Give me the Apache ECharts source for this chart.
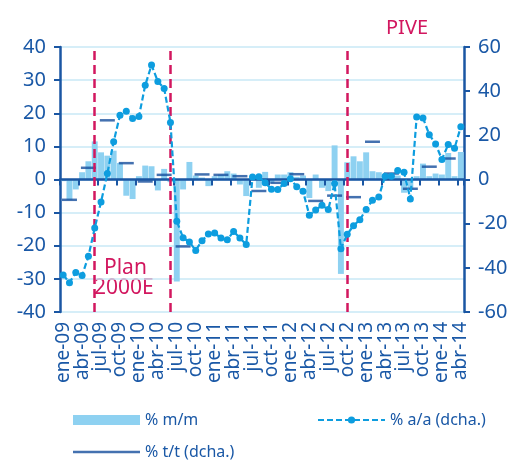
<!DOCTYPE html>
<html>
<head>
<meta charset="utf-8">
<script src="https://cdn.jsdelivr.net/npm/echarts@6.0.0/dist/echarts.min.js"></script>
<style>
    html, body { margin: 0; padding: 0; background: #fff; }
    #chart { width: 513px; height: 462px; }
</style>
</head>
<body>
<div id="chart"></div>
<script>
// meses ene-09 .. abr-14
var meses = [
    'ene-09','feb-09','mar-09','abr-09','may-09','jun-09','jul-09','ago-09','sep-09','oct-09','nov-09','dic-09',
    'ene-10','feb-10','mar-10','abr-10','may-10','jun-10','jul-10','ago-10','sep-10','oct-10','nov-10','dic-10',
    'ene-11','feb-11','mar-11','abr-11','may-11','jun-11','jul-11','ago-11','sep-11','oct-11','nov-11','dic-11',
    'ene-12','feb-12','mar-12','abr-12','may-12','jun-12','jul-12','ago-12','sep-12','oct-12','nov-12','dic-12',
    'ene-13','feb-13','mar-13','abr-13','may-13','jun-13','jul-13','ago-13','sep-13','oct-13','nov-13','dic-13',
    'ene-14','feb-14','mar-14','abr-14'
];

// % m/m (eje izq.)
var mm = [
    -0.5, -6.2, -3.0, 2.2, 5.5, 11.5, 8.2, 7.2, 8.7, 5.0, -4.9, -5.9,
    1.0, 4.2, 4.0, -3.3, 3.2, -0.8, -30.8, -3.0, 5.3, 1.2, 0.6, -2.0,
    1.0, 1.5, 2.5, 1.8, -1.5, -5.0, 1.0, -2.5, 2.3, -1.0, 1.5, 1.5,
    2.2, 0.8, 1.2, -5.6, 1.5, -2.5, -3.5, 10.3, -28.5, 5.2, 7.0, 5.5,
    8.2, 2.5, 2.2, 1.2, 1.5, 1.2, -4.0, -3.0, 1.0, 4.8, 1.0, 1.8,
    1.5, 8.0, 1.0, 8.3
];

// % a/a (eje dcho.)
var aa = [
    -43.2, -46.7, -42.1, -43.5, -34.8, -22.0, -10.2, 2.7, 17.1, 29.1, 30.9, 27.6,
    28.5, 42.7, 51.8, 44.4, 41.2, 25.8, -18.9, -26.4, -28.3, -32.1, -27.7, -24.7,
    -24.2, -26.5, -27.3, -23.5, -26.5, -29.4, 1.1, 1.2, -1.5, -4.4, -4.5, -1.8,
    0.3, -3.3, -5.3, -16.2, -13.8, -11.7, -13.6, -1.8, -31.4, -24.8, -20.9, -18.2,
    -13.6, -9.4, -7.9, 1.5, 1.5, 4.1, 3.3, -8.8, 28.3, 27.9, 20.3, 16.1,
    9.1, 15.8, 14.2, 23.9
];

// % t/t trimestral (eje dcho.), 1T09 .. 1T14
var tt = [
    -9.2, 5.3, 26.8, 7.4,
    -0.9, 2.1, -30.3, 2.3,
    2.1, 1.5, -5.2, -1.5,
    2.4, -9.7, -7.3, -8.0,
    17.1, 2.7, -4.2, 5.8,
    9.5
];

var marcas = ['jun-09', 'jun-10', 'oct-12'];

var azulTexto = '#1a58a6';
var azulEje = '#1a56a3';
var rojo = '#d2175f';
var fuente = 'Noto Sans';

var chart = echarts.init(document.getElementById('chart'));

var ttData = tt.map(function (v, k) {
    return [k * 3 + 1, v]; // mes central del trimestre
});

var option = {
    animation: false,
    textStyle: { fontFamily: fuente },
    grid: { left: 60, right: 49, top: 47, bottom: 150 },
    legend: [{
        left: 68, top: 407,
        itemWidth: 67, itemHeight: 10,
        textStyle: { color: azulTexto, fontSize: 16, fontFamily: fuente },
        data: [{ name: '% m/m', icon: 'rect' }]
    }, {
        left: 312, top: 407,
        itemWidth: 67, itemHeight: 9,
        textStyle: { color: azulTexto, fontSize: 16, fontFamily: fuente },
        data: ['% a/a (dcha.)']
    }, {
        left: 68, top: 439,
        itemWidth: 67, itemHeight: 2.5,
        textStyle: { color: azulTexto, fontSize: 16, fontFamily: fuente },
        data: [{ name: '% t/t (dcha.)', icon: 'rect' }]
    }],
    xAxis: [{
        // eje en el cero, solo linea y marcas
        type: 'category',
        data: meses,
        z: 3,
        axisLine: { onZero: true, lineStyle: { color: azulEje, width: 2.5 } },
        axisTick: { show: true, interval: 2, length: 6, lineStyle: { color: azulEje, width: 2 } },
        axisLabel: { show: false },
        splitLine: { show: false }
    }, {
        // etiquetas abajo
        type: 'category',
        data: meses,
        position: 'bottom',
        axisLine: { show: false, onZero: false },
        axisTick: { show: false },
        axisLabel: {
            rotate: 90,
            interval: 2,
            margin: 10,
            color: azulTexto,
            fontSize: 19,
            fontFamily: fuente
        }
    }],
    yAxis: [{
        type: 'value',
        min: -40, max: 40, interval: 10,
        axisLine: { show: true, lineStyle: { color: azulEje, width: 2.5 } },
        axisTick: { show: true, length: 6, lineStyle: { color: azulEje, width: 2 } },
        axisLabel: { color: azulTexto, fontSize: 20, margin: 14, fontFamily: fuente },
        splitLine: { show: true, lineStyle: { color: '#c9e8f6', width: 1.5 } }
    }, {
        type: 'value',
        position: 'right',
        min: -60, max: 60, interval: 20,
        axisLine: { show: true, lineStyle: { color: azulEje, width: 2.5 } },
        axisTick: { show: true, length: 6, lineStyle: { color: azulEje, width: 2 } },
        axisLabel: { color: azulTexto, fontSize: 20, margin: 14, fontFamily: fuente },
        splitLine: { show: false }
    }],
    graphic: [{
        type: 'text', left: 104, top: 258,
        style: { text: 'Plan', fill: rojo, font: '21px "Noto Sans"' }
    }, {
        type: 'text', left: 94, top: 278,
        style: { text: '2000E', fill: rojo, font: '21px "Noto Sans"' }
    }, {
        type: 'text', left: 386, top: 18,
        style: { text: 'PIVE', fill: rojo, font: '20px "Noto Sans"' }
    }],
    series: [{
        name: '% m/m',
        type: 'bar',
        xAxisIndex: 0,
        yAxisIndex: 0,
        barCategoryGap: '6%',
        itemStyle: { color: '#8ed1f1' },
        data: mm,
        z: 2,
        markLine: {
            silent: true,
            symbol: ['none', 'none'],
            label: { show: false },
            lineStyle: { color: rojo, width: 2.5, type: [9, 5] },
            data: marcas.map(function (m) { return { xAxis: m }; })
        }
    }, {
        name: '% t/t (dcha.)',
        type: 'scatter',
        xAxisIndex: 0,
        yAxisIndex: 1,
        symbol: 'rect',
        symbolSize: [15, 2.5],
        itemStyle: { color: '#154e9c' },
        data: ttData,
        z: 4
    }, {
        name: '% a/a (dcha.)',
        type: 'line',
        xAxisIndex: 0,
        yAxisIndex: 1,
        symbol: 'circle',
        symbolSize: 7,
        showSymbol: true,
        showAllSymbol: true,
        lineStyle: { color: '#0d9ddf', width: 2.2, type: [6, 3] },
        itemStyle: { color: '#0d9ddf' },
        data: aa,
        z: 5
    }]
};

chart.setOption(option);
</script>
</body>
</html>
